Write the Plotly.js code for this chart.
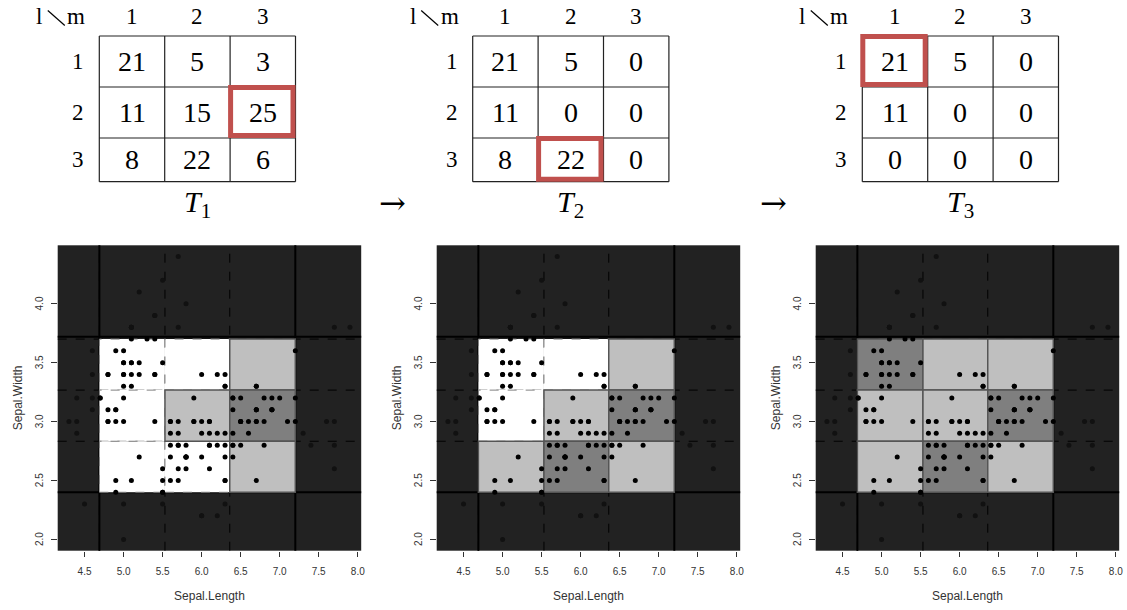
<!DOCTYPE html>
<html><head><meta charset="utf-8">
<script src="https://cdn.plot.ly/plotly-3.0.1.min.js"></script>
<style>body{margin:0;background:#fff}#chart{width:1127px;height:610px}</style>
</head><body><div id="chart"></div>
<script>
// ---- data ----
const sepalLength = [5.1,4.9,4.7,4.6,5.0,5.4,4.6,5.0,4.4,4.9,5.4,4.8,4.8,4.3,5.8,5.7,5.4,5.1,5.7,5.1,5.4,5.1,4.6,5.1,4.8,5.0,5.0,5.2,5.2,4.7,4.8,5.4,5.2,5.5,4.9,5.0,5.5,4.9,4.4,5.1,5.0,4.5,4.4,5.0,5.1,4.8,5.1,4.6,5.3,5.0,
7.0,6.4,6.9,5.5,6.5,5.7,6.3,4.9,6.6,5.2,5.0,5.9,6.0,6.1,5.6,6.7,5.6,5.8,6.2,5.6,5.9,6.1,6.3,6.1,6.4,6.6,6.8,6.7,6.0,5.7,5.5,5.5,5.8,6.0,5.4,6.0,6.7,6.3,5.6,5.5,5.5,6.1,5.8,5.0,5.6,5.7,5.7,6.2,5.1,5.7,
6.3,5.8,7.1,6.3,6.5,7.6,4.9,7.3,6.7,7.2,6.5,6.4,6.8,5.7,5.8,6.4,6.5,7.7,7.7,6.0,6.9,5.6,7.7,6.3,6.7,7.2,6.2,6.1,6.4,7.2,7.4,7.9,6.4,6.3,6.1,7.7,6.3,6.4,6.0,6.9,6.7,6.9,5.8,6.8,6.7,6.7,6.3,6.5,6.2,5.9];
const sepalWidth = [3.5,3.0,3.2,3.1,3.6,3.9,3.4,3.4,2.9,3.1,3.7,3.4,3.0,3.0,4.0,4.4,3.9,3.5,3.8,3.8,3.4,3.7,3.6,3.3,3.4,3.0,3.4,3.5,3.4,3.2,3.1,3.4,4.1,4.2,3.1,3.2,3.5,3.6,3.0,3.4,3.5,2.3,3.2,3.5,3.8,3.0,3.8,3.2,3.7,3.3,
3.2,3.2,3.1,2.3,2.8,2.8,3.3,2.4,2.9,2.7,2.0,3.0,2.2,2.9,2.9,3.1,3.0,2.7,2.2,2.5,3.2,2.8,2.5,2.8,2.9,3.0,2.8,3.0,2.9,2.6,2.4,2.4,2.7,2.7,3.0,3.4,3.1,2.3,3.0,2.5,2.6,3.0,2.6,2.3,2.7,3.0,2.9,2.9,2.5,2.8,
3.3,2.7,3.0,2.9,3.0,3.0,2.5,2.9,2.5,3.6,3.2,2.7,3.0,2.5,2.8,3.2,3.0,3.8,2.6,2.2,3.2,2.8,2.8,2.7,3.3,3.2,2.8,3.0,2.8,3.0,2.8,3.8,2.8,2.8,2.6,3.0,3.4,3.1,3.0,3.1,3.1,3.1,2.7,3.2,3.3,3.0,2.5,3.0,3.4,3.0];

const rowLabels = ['1','2','3'];
const colLabels = ['1','2','3'];
const table1 = [[21,5,3],[11,15,25],[8,22,6]];
const table2 = [[21,5,0],[11,0,0],[8,22,0]];
const table3 = [[21,5,0],[11,0,0],[0,0,0]];
const tableNames = ['1','2','3'];
const pickedCells = [[1,2],[2,1],[0,0]]; // [row, col] chosen at each step
// cell shading per panel (rows top->bottom): 0 = white, 1 = light grey, 2 = dark grey
const shade1 = [[0,0,1],[0,1,2],[0,0,1]];
const shade2 = [[0,0,1],[0,1,2],[1,2,1]];
const shade3 = [[2,1,1],[1,1,2],[1,2,1]];

const xCuts = [4.69, 5.53, 6.36, 7.2];
const yCuts = [2.4, 2.833, 3.267, 3.70];
const yTopSolid = 3.72;
const xTicks = [4.5,5.0,5.5,6.0,6.5,7.0,7.5,8.0];
const yTicks = [2.0,2.5,3.0,3.5,4.0];

// ---- layout helpers ----
const W = 1127, H = 610;
const fx = p => p / W;
const fy = p => 1 - p / H;
const plotLeftPx = [57.7, 436.7, 815.7];
const plotWPx = 303.5;
const plotTopPx = 245.3, plotBotPx = 550.7;
const tableLeftPx = [99.3, 472.7, 862.3];
const colWPx = 65.4;
const rowEdgesPx = [36, 87, 138, 181.7];
const headerYPx = 16;
const tLabelYPx = 204;
const arrowPx = [[392, 203], [773, 203]];

const RED = '#c0504d';
const serif = 'Liberation Serif, Times New Roman, serif';
const sans = 'Liberation Sans, Arial, sans-serif';

const tables = [table1, table2, table3];
const shades = [shade1, shade2, shade3];
const shadeFill = ['#ffffff', '#bfbfbf', '#7f7f7f'];
const data = [];
const shapes = [];
const annotations = [];
const layout = {
  width: W, height: H, margin: {l:0, r:0, t:0, b:0},
  paper_bgcolor: '#ffffff', plot_bgcolor: '#222222',
  showlegend: false, shapes, annotations
};

for (let p = 0; p < 3; p++) {
  const sfx = p === 0 ? '' : String(p + 1);
  const xr = 'x' + sfx, yr = 'y' + sfx;
  layout['xaxis' + sfx] = {
    domain: [fx(plotLeftPx[p]), fx(plotLeftPx[p] + plotWPx)],
    range: [4.156, 8.044], anchor: yr,
    tickvals: xTicks, ticktext: xTicks.map(v => v.toFixed(1)),
    ticks: 'outside', ticklen: 5, tickcolor: '#333', tickwidth: 1, ticklabelstandoff: 6,
    showgrid: false, zeroline: false, showline: false,
    tickfont: {family: sans, size: 10, color: '#333'},
    title: {text: 'Sepal.Length', font: {family: sans, size: 12, color: '#333'}, standoff: 15},
    fixedrange: true
  };
  layout['yaxis' + sfx] = {
    domain: [fy(plotBotPx), fy(plotTopPx)],
    range: [1.904, 4.496], anchor: xr,
    tickvals: yTicks, showticklabels: false,
    ticks: 'outside', ticklen: 6, tickcolor: '#333', tickwidth: 1,
    showgrid: false, zeroline: false, showline: false,
    fixedrange: true
  };
  // y tick labels (rotated, R style) and y title
  yTicks.forEach(v => annotations.push({xref:'paper', yref:yr, x:fx(plotLeftPx[p] - 18), y:v,
    text: v.toFixed(1), textangle:-90, showarrow:false, xanchor:'center', yanchor:'middle',
    font:{family:sans, size:10, color:'#333'}}));
  annotations.push({xref:'paper', yref:'paper', x:fx(plotLeftPx[p] - 39.5), y:fy((plotTopPx + plotBotPx)/2),
    text:'Sepal.Width', textangle:-90, showarrow:false, xanchor:'center', yanchor:'middle',
    font:{family:sans, size:12, color:'#333'}});

  const S = shades[p];
  const cellBox = (r, c) => ({x0: xCuts[c], x1: xCuts[c + 1], y0: yCuts[2 - r], y1: yCuts[3 - r]});

  // white cells
  for (let r = 0; r < 3; r++) for (let c = 0; c < 3; c++) {
    if (S[r][c] !== 0) continue;
    shapes.push(Object.assign({type:'rect', xref:xr, yref:yr, layer:'below',
      fillcolor:'#ffffff', line:{color:'#808080', width:1, dash:'dash'}}, cellBox(r, c)));
  }
  // dashed cut lines
  [yCuts[1], yCuts[2], yCuts[3]].forEach(v => shapes.push({type:'line', xref:xr+' domain', yref:yr,
    x0:0, x1:1, y0:v, y1:v, layer:'below', line:{color:'#000', width:1, dash:'dash'}}));
  [xCuts[0], xCuts[1], xCuts[2]].forEach(v => shapes.push({type:'line', xref:xr, yref:yr+' domain',
    x0:v, x1:v, y0:0, y1:1, layer:'below', line:{color:'#000', width:1, dash:'dash'}}));
  // grey cells
  for (let r = 0; r < 3; r++) for (let c = 0; c < 3; c++) {
    if (S[r][c] === 0) continue;
    shapes.push(Object.assign({type:'rect', xref:xr, yref:yr, layer:'below',
      fillcolor: shadeFill[S[r][c]], line:{color:'#555555', width:1.5}}, cellBox(r, c)));
  }
  // solid outer lines
  [xCuts[0], xCuts[3]].forEach(v => shapes.push({type:'line', xref:xr, yref:yr+' domain',
    x0:v, x1:v, y0:0, y1:1, layer:'below', line:{color:'#000', width:2}}));
  [yCuts[0], yTopSolid].forEach(v => shapes.push({type:'line', xref:xr+' domain', yref:yr,
    x0:0, x1:1, y0:v, y1:v, layer:'below', line:{color:'#000', width:2}}));

  // points
  const colors = sepalLength.map((x, i) => {
    const y = sepalWidth[i];
    const inside = x >= xCuts[0] && x <= xCuts[3] && y >= yCuts[0] && y <= yTopSolid;
    return inside ? '#000000' : '#111111';
  });
  data.push({type:'scatter', mode:'markers', x: sepalLength, y: sepalWidth, xaxis: xr, yaxis: yr,
    marker:{size:5, color: colors}, hoverinfo:'skip'});

  // ---- table ----
  const T = tables[p];
  const L = tableLeftPx[p];
  const R = L + 3 * colWPx;
  for (let k = 0; k < 4; k++) {
    shapes.push({type:'line', xref:'paper', yref:'paper', x0:fx(L + k*colWPx), x1:fx(L + k*colWPx),
      y0:fy(rowEdgesPx[0]), y1:fy(rowEdgesPx[3]), line:{color:'#222', width:1.2}});
    shapes.push({type:'line', xref:'paper', yref:'paper', x0:fx(L), x1:fx(R),
      y0:fy(rowEdgesPx[k]), y1:fy(rowEdgesPx[k]), line:{color:'#222', width:1.2}});
  }
  for (let r = 0; r < 3; r++) {
    const cy = (rowEdgesPx[r] + rowEdgesPx[r+1]) / 2;
    annotations.push({xref:'paper', yref:'paper', x:fx(L - 21), y:fy(cy), text: rowLabels[r],
      showarrow:false, xanchor:'center', yanchor:'middle', font:{family:serif, size:23, color:'#000'}});
    for (let c = 0; c < 3; c++) {
      const cx = L + (c + 0.5) * colWPx;
      annotations.push({xref:'paper', yref:'paper', x:fx(cx), y:fy(cy), text: String(T[r][c]),
        showarrow:false, xanchor:'center', yanchor:'middle', font:{family:serif, size:28, color:'#000'}});
    }
  }
  for (let c = 0; c < 3; c++) {
    annotations.push({xref:'paper', yref:'paper', x:fx(L + (c + 0.5)*colWPx), y:fy(headerYPx), text: colLabels[c],
      showarrow:false, xanchor:'center', yanchor:'middle', font:{family:serif, size:23, color:'#000'}});
  }
  // corner "l \ m"
  annotations.push({xref:'paper', yref:'paper', x:fx(L - 60), y:fy(headerYPx), text:'l',
    showarrow:false, xanchor:'center', yanchor:'middle', font:{family:serif, size:23, color:'#000'}});
  annotations.push({xref:'paper', yref:'paper', x:fx(L - 23), y:fy(headerYPx), text:'m',
    showarrow:false, xanchor:'center', yanchor:'middle', font:{family:serif, size:23, color:'#000'}});
  shapes.push({type:'line', xref:'paper', yref:'paper', x0:fx(L - 51.5), y0:fy(10.5), x1:fx(L - 34.5), y1:fy(25.5),
    line:{color:'#000', width:1.2}});
  // label T_k
  annotations.push({xref:'paper', yref:'paper', x:fx(L + 1.5*colWPx), y:fy(tLabelYPx),
    text:'<i>T</i><sub>' + tableNames[p] + '</sub>', showarrow:false, xanchor:'center', yanchor:'middle',
    font:{family:serif, size:30, color:'#000'}});
  // red highlight
  const pc = pickedCells[p];
  const cx0 = L + pc[1]*colWPx, cx1 = cx0 + colWPx;
  const cy0 = rowEdgesPx[pc[0]], cy1 = rowEdgesPx[pc[0]+1];
  shapes.push({type:'rect', xref:'paper', yref:'paper', x0:fx(cx0 + 0.5), x1:fx(cx1 - 2.5),
    y0:fy(cy0 + 0.5), y1:fy(cy1 - 2.5), line:{color:RED, width:5}});
}
// arrows
arrowPx.forEach(a => annotations.push({xref:'paper', yref:'paper', x:fx(a[0]), y:fy(a[1]), text:'\u2192',
  showarrow:false, xanchor:'center', yanchor:'middle', font:{family:'DejaVu Serif, serif', size:32, color:'#000'}}));

Plotly.newPlot('chart', data, layout, {staticPlot:true, displayModeBar:false});
</script></body></html>
